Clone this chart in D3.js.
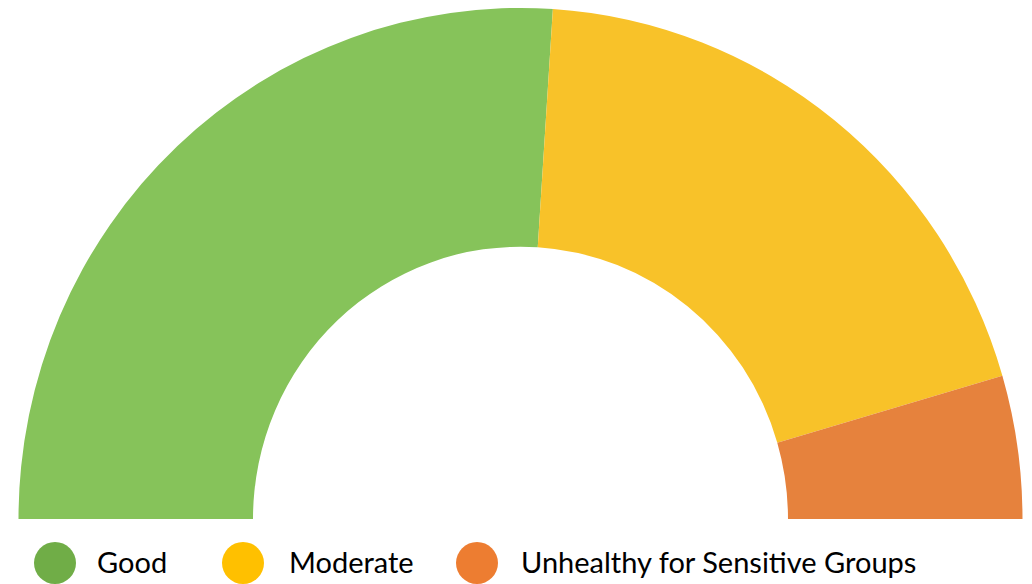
<!DOCTYPE html>
<html>
<head>
<meta charset="utf-8">
<script src="https://cdn.jsdelivr.net/npm/d3@7"></script>
<style>
  body { margin: 0; background: #fff; }
  svg { display: block; }
</style>
</head>
<body>
<svg id="chart" width="1032" height="584"></svg>
<script>
const categories = ['Good', 'Moderate', 'Unhealthy for Sensitive Groups'];
const values = [190, 142, 33];
const arcColors = ['#86c35a', '#f8c229', '#e6823d'];
const legendColors = ['#70ad47', '#ffc000', '#ed7d31'];

const svg = d3.select('#chart'),
  cx = 520.5,
  cy = 519,
  outerR = 502,
  innerR = 267.5;

const pie = d3.pie()
  .sort(null)
  .startAngle(-Math.PI / 2)
  .endAngle(Math.PI / 2);

const arc = d3.arc().innerRadius(innerR).outerRadius(outerR);

const g = svg.append('g')
  .attr('transform', `translate(${cx},${cy}) scale(1,1.018)`);

g.selectAll('path')
  .data(pie(values))
  .enter()
  .append('path')
  .attr('d', arc)
  .attr('fill', (d, i) => arcColors[i]);

// legend
const legendX = d3.scaleOrdinal().domain(categories).range([55, 243, 477]);

const item = svg.selectAll('.legend')
  .data(categories)
  .enter()
  .append('g')
  .attr('class', 'legend')
  .attr('transform', d => `translate(${legendX(d)},563)`);

item.append('circle')
  .attr('r', 21)
  .attr('fill', (d, i) => legendColors[i]);

item.append('text')
  .attr('x', (d, i) => [42, 46, 44][i])
  .attr('y', 10)
  .attr('font-family', 'Lato, sans-serif')
  .attr('font-size', 29)
  .attr('fill', '#000')
  .text(d => d);
</script>
</body>
</html>
